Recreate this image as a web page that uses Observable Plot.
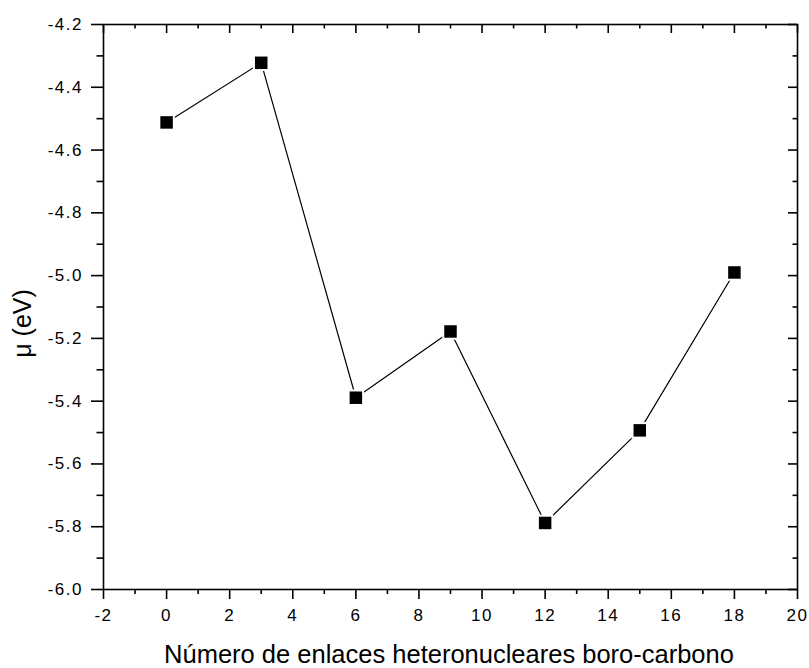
<!DOCTYPE html>
<html>
<head>
<meta charset="utf-8">
<script src="https://cdn.jsdelivr.net/npm/d3@7"></script>
<script src="https://cdn.jsdelivr.net/npm/@observablehq/plot@0.6"></script>
<style>
  html, body { margin: 0; padding: 0; background: #fff; }
  svg { display: block; }
</style>
</head>
<body>
<div id="chart"></div>
<script>
// ---- data ----
const bonds = [0, 3, 6, 9, 12, 15, 18];
const mu = [-4.512, -4.322, -5.389, -5.178, -5.788, -5.493, -4.990];

const xMajor = [-2, 0, 2, 4, 6, 8, 10, 12, 14, 16, 18, 20];
const xMinor = [-1, 1, 3, 5, 7, 9, 11, 13, 15, 17, 19];
const yMajor = [-6.0, -5.8, -5.6, -5.4, -5.2, -5.0, -4.8, -4.6, -4.4, -4.2];
const yMinor = [-5.9, -5.7, -5.5, -5.3, -5.1, -4.9, -4.7, -4.5, -4.3];

const xTitle = "Número de enlaces heteronucleares boro-carbono";
const yTitle = "μ (eV)";

// ---- layout ----
const W = 809, H = 668;
const mL = 103, mR = 12, mT = 24, mB = 79;
const FW = W - mL - mR;   // frame width
const FH = H - mT - mB;   // frame height
const SW = 1.6;           // axis line width

const data = bonds.map((b, i) => ({b, mu: mu[i]}));

const chart = Plot.plot({
  width: W,
  height: H,
  marginLeft: mL,
  marginRight: mR,
  marginTop: mT,
  marginBottom: mB,
  style: {fontFamily: "'Liberation Sans', Arial, sans-serif", background: "#fff", color: "#000"},
  x: {domain: [-2, 20]},
  y: {domain: [-6.0, -4.2]},
  marks: [
    // bottom axis (outward ticks + labels)
    Plot.axisX(xMajor, {anchor: "bottom", tickSize: 10, tickPadding: 9.3, tickFormat: d => String(d),
      fontSize: 17, strokeWidth: SW, label: null}),
    Plot.tickX(xMinor, {x: d => d, insetTop: FH, insetBottom: -5, stroke: "#000", strokeWidth: SW}),
    // top axis (inward ticks)
    Plot.tickX(xMajor, {x: d => d, insetBottom: FH - 9, stroke: "#000", strokeWidth: SW}),
    Plot.tickX(xMinor, {x: d => d, insetBottom: FH - 4.5, stroke: "#000", strokeWidth: SW}),
    // left axis (outward ticks + labels)
    Plot.axisY(yMajor, {anchor: "left", tickSize: 12, tickPadding: 8.5, tickFormat: d => d.toFixed(1),
      fontSize: 17, strokeWidth: SW, label: null}),
    Plot.tickY(yMinor, {y: d => d, insetLeft: -6.5, insetRight: FW, stroke: "#000", strokeWidth: SW}),
    // right axis (inward ticks)
    Plot.tickY(yMajor, {y: d => d, insetLeft: FW - 9, stroke: "#000", strokeWidth: SW}),
    Plot.tickY(yMinor, {y: d => d, insetLeft: FW - 4.5, stroke: "#000", strokeWidth: SW}),
    // frame
    Plot.frame({stroke: "#000", strokeWidth: SW}),
    // series
    Plot.line(data, {x: "b", y: "mu", stroke: "#000", strokeWidth: 1.2}),
    Plot.dot(data, {x: "b", y: "mu", symbol: "square", r: 9.3, fill: "#fff"}),
    Plot.dot(data, {x: "b", y: "mu", symbol: "square", r: 7.05, fill: "#000"}),
    // axis titles
    Plot.text([xTitle], {text: d => d, frameAnchor: "bottom", lineAnchor: "top", textAnchor: "middle",
      dx: -1.5, dy: 55, fontSize: 25.5, fill: "#000"}),
    Plot.text([yTitle], {text: d => d, frameAnchor: "left", lineAnchor: "middle", textAnchor: "middle",
      rotate: -90, dx: -81, dy: 16.5, fontSize: 25, fill: "#000"})
  ]
});

d3.select(chart).selectAll('g[aria-label$="tick label"] text').attr("letter-spacing", "1.5");
document.getElementById("chart").appendChild(chart);
</script>
</body>
</html>
